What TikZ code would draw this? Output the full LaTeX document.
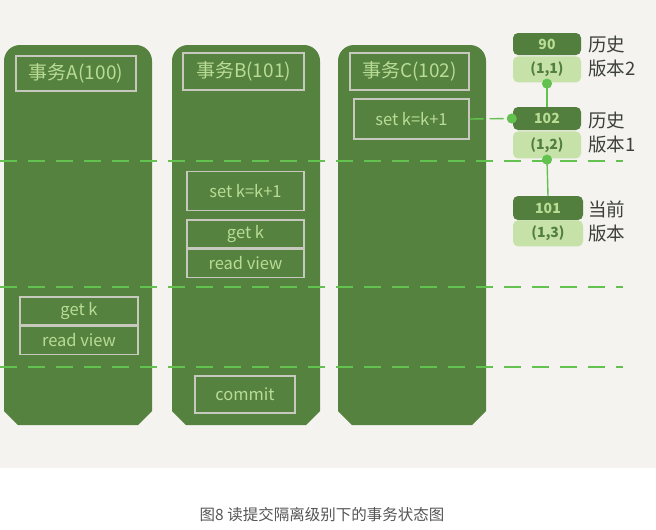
\documentclass[tikz,border=0pt]{standalone}
\usepackage{fontspec}
\setmainfont{Noto Sans CJK SC}
\usetikzlibrary{arrows.meta,positioning}
\definecolor{bgcol}{HTML}{F4F3EF}
\definecolor{colgreen}{HTML}{568240}
\definecolor{txtgreen}{HTML}{B9DC95}
\definecolor{boxgrey}{HTML}{C8C9BE}
\definecolor{linegreen}{HTML}{63C24F}
\definecolor{vdarkcol}{HTML}{527F3D}
\definecolor{vlightcol}{HTML}{C6E2A8}
\definecolor{labelgrey}{HTML}{3C3F3A}
\definecolor{capgrey}{HTML}{555555}
\tikzset{
  titlebox/.style={draw=boxgrey,line width=1.3pt,text=txtgreen,font=\fontsize{19}{19}\selectfont,inner sep=0pt},
  opbox/.style={draw=boxgrey,line width=1.3pt,text=txtgreen,font=\fontsize{16.5}{16.5}\selectfont,inner sep=0pt},
  vdark/.style={fill=vdarkcol,rounded corners=5pt,text=txtgreen,font=\fontsize{14}{14}\selectfont\bfseries,minimum width=68pt,inner sep=0pt},
  vlight/.style={fill=vlightcol,rounded corners=5pt,text=vdarkcol,font=\fontsize{14}{14}\selectfont\bfseries,minimum width=68pt,inner sep=0pt},
  vlabel/.style={text=labelgrey,font=\fontsize{18.5}{24}\selectfont,align=left,anchor=west,inner sep=0pt},
  tline/.style={linegreen,line width=1.3pt,dash pattern=on 17pt off 11pt},
  link/.style={linegreen,line width=1.4pt,-{Circle[length=10pt,width=10pt,sep=-4pt]}}
}
\begin{document}
\begin{tikzpicture}[x=1pt,y=-1pt]
\useasboundingbox (0,0) rectangle (656,530);
\fill[bgcol] (0,0) rectangle (656,468);
% columns
\foreach \xl in {4,172,338}{
  \fill[colgreen] (\xl,411) -- (\xl+14,425) -- (\xl+134,425) -- (\xl+148,411)
    [rounded corners=16pt] -- (\xl+148,45) -- (\xl,45) [sharp corners] -- cycle;
}
% transactions
\node[titlebox,minimum width=120pt,minimum height=35pt] (tA) at (76,73.5) {事务A(100)};
\node[titlebox,minimum width=121pt,minimum height=37pt] (tB) at (243.5,71.5) {事务B(101)};
\node[titlebox,minimum width=119pt,minimum height=37pt] (tC) at (409.5,71.5) {事务C(102)};
\node[opbox,minimum width=115pt,minimum height=40pt] (cSet) at (411.5,119) {set k=k+1};
\node[opbox,minimum width=117pt,minimum height=39pt] (bSet) at (245.5,191) {set k=k+1};
\node[opbox,minimum width=117pt,minimum height=28pt] (bGet) at (245.5,234) {get k};
\node[opbox,minimum width=117pt,minimum height=28pt,below=0pt of bGet] (bRead) {read view};
\node[opbox,minimum width=100pt,minimum height=37pt] (bCommit) at (245,394.5) {commit};
\node[opbox,minimum width=118pt,minimum height=28pt] (aGet) at (79,311) {get k};
\node[opbox,minimum width=118pt,minimum height=28pt,below=0pt of aGet] (aRead) {read view};
% time lines
\foreach \yl in {161,287,367}{
  \draw[tline] (0,\yl) -- (623,\yl);
}
% versions
\node[vdark,minimum height=22pt] (v90) at (547,44) {90};
\node[vlight,minimum height=26pt,below=1pt of v90] (r11) {(1,1)};
\node[vdark,minimum height=23pt] (v102) at (547,118.5) {102};
\node[vlight,minimum height=27pt,below=1pt of v102] (r12) {(1,2)};
\node[vdark,minimum height=24pt,minimum width=70pt] (v101) at (548,208) {101};
\node[vlight,minimum height=26pt,minimum width=70pt,below=0pt of v101] (r13) {(1,3)};
\node[vlabel] (l2) at (588,57) {历史\\版本2};
\node[vlabel] (l1) at (588,133) {历史\\版本1};
\node[vlabel] (l0) at (588,221) {当前\\版本};
% links
\draw[link,dash pattern=on 14pt off 6pt] (cSet.east) -- (v102.west);
\draw[link] (v102.north) -- (r11.south);
\draw[link] (v101.north) -- (r12.south);
% caption
\node[text=capgrey,font=\fontsize{15.5}{16}\selectfont] (cap) at (322,515) {图8 读提交隔离级别下的事务状态图};
\end{tikzpicture}
\end{document}
